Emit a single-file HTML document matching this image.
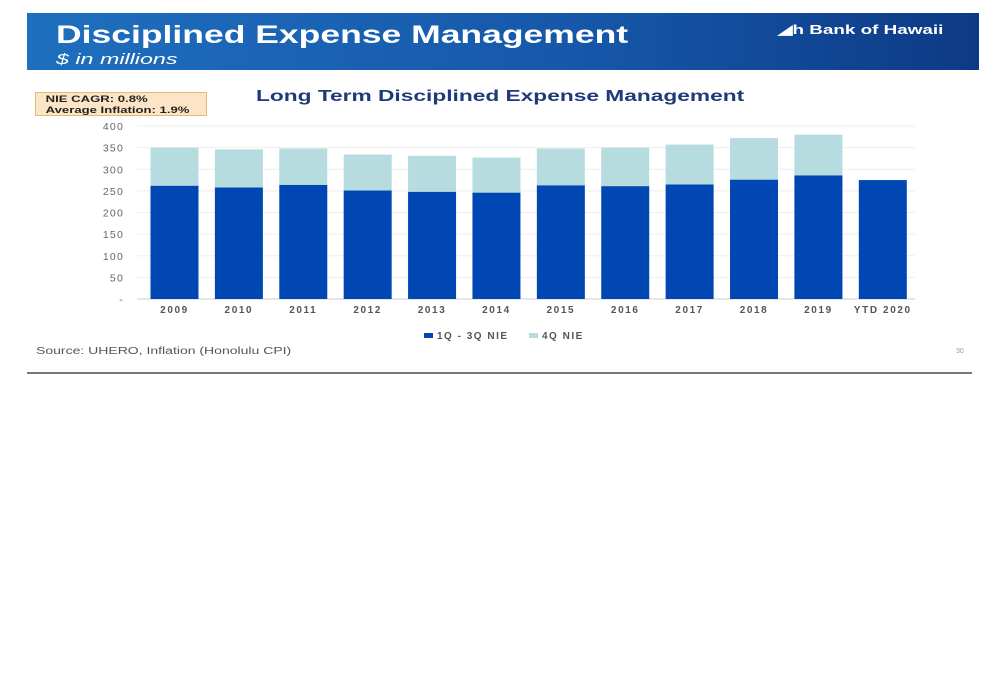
<!DOCTYPE html>
<html><head><meta charset="utf-8"><style>
body{margin:0;width:1000px;height:685px;background:#fff;font-family:"Liberation Sans",sans-serif;position:relative;overflow:hidden}
.abs{position:absolute}
.sx{transform-origin:left top;white-space:nowrap}
</style></head><body>
<div class="abs" style="left:27px;top:13px;width:952px;height:57px;background:linear-gradient(90deg,#1f6fbf,#1656a8 60%,#0d3a85)"></div>
<div class="abs sx" style="left:56px;top:21px;color:#fff;font-size:25px;font-weight:bold;transform:scaleX(1.42)">Disciplined Expense Management</div>
<div class="abs sx" style="left:56px;top:51px;color:#fff;font-size:15px;font-style:italic;transform:scaleX(1.55)">$ in millions</div>
<div class="abs sx" style="left:778px;top:22px;color:#fff;font-size:13px;font-weight:bold;transform:scaleX(1.45)">◢h Bank of Hawaii</div>
<div class="abs" style="left:35px;top:92px;width:172px;height:24px;background:#fbe5c6;border:1px solid #e8b96f;box-sizing:border-box;color:#222"><div class="sx" style="font-size:9.5px;font-weight:bold;line-height:11px;padding:1px 0 0 7px;transform:scaleX(1.38)">NIE CAGR: 0.8%<br>Average Inflation: 1.9%</div></div>
<div class="abs sx" style="left:256px;top:88px;color:#1f3a7a;font-size:16px;font-weight:bold;transform:scaleX(1.42)">Long Term Disciplined Expense Management</div>
<svg class="abs" style="left:0;top:0" width="1000" height="685" id="chart"></svg>
<div class="abs sx" style="left:36px;top:346px;color:#555;font-size:10px;transform:scaleX(1.4)">Source: UHERO, Inflation (Honolulu CPI)</div>
<div class="abs" style="left:956px;top:348px;color:#999;font-size:7px">30</div>
<div class="abs" style="left:27px;top:372px;width:945px;height:2px;background:#777"></div>
<script>
const categories=["2009","2010","2011","2012","2013","2014","2015","2016","2017","2018","2019","YTD 2020"];
const nie13=[262,258,264,251,248,246,263,261,265,276,286,275];
const nie4=[88,88,84,83,83,81,85,89,92,96,94,0];
const yTicks=[0,50,100,150,200,250,300,350,400];
const yTickLabels=["-","50","100","150","200","250","300","350","400"];
const svg=document.getElementById('chart');
const NS='http://www.w3.org/2000/svg';
const x0=142.3,x1=915,y0=299,y1=126,ymax=400;
const bw=(x1-x0)/categories.length;
const y=v=>y0-(v/ymax)*(y0-y1);
const xc=i=>x0+bw*(i+0.5);
function mk(t,a){const e=document.createElementNS(NS,t);for(const k in a)e.setAttribute(k,a[k]);svg.appendChild(e);return e;}
yTicks.forEach((t,i)=>{
 const g=mk('line',{x1:137,x2:x1,y1:y(t),y2:y(t),stroke:i==0?'#ccc':'#eee','stroke-width':1});
 
 
 const l=mk('text',{x:124,y:y(t)+4,'text-anchor':'end','font-size':10.5,fill:'#666','font-family':'Liberation Sans','letter-spacing':1.2});
 l.textContent=yTickLabels[i];
 
 
});
categories.forEach((c,i)=>{
 const w=48,bx=xc(i)-w/2;
 const b1=mk('rect',{x:bx,y:y(nie13[i]),width:w,height:y0-y(nie13[i]),fill:'#0047b3'});
 
 
 if(nie4[i]>0){
  const b2=mk('rect',{x:bx,y:y(nie13[i]+nie4[i]),width:w,height:y(nie13[i])-y(nie13[i]+nie4[i]),fill:'#b7dce0'});
  
  
 }
 const t=mk('text',{x:xc(i),y:313,'text-anchor':'middle','font-size':10,'font-weight':'bold',fill:'#555','font-family':'Liberation Sans','letter-spacing':1.6});
 t.textContent=c;
 
 
});
const legend=[["1Q - 3Q NIE","#0047b3",424],["4Q NIE","#b7dce0",529]];
legend.forEach(([n,col,lx])=>{
 const r=mk('rect',{x:lx,y:333,width:9,height:5,fill:col});
 
 
 const t=mk('text',{x:lx+13,y:339,'font-size':10,'font-weight':'bold',fill:'#555','font-family':'Liberation Sans','letter-spacing':1.5});
 t.textContent=n;
 
 
});
</script>
</body></html>
